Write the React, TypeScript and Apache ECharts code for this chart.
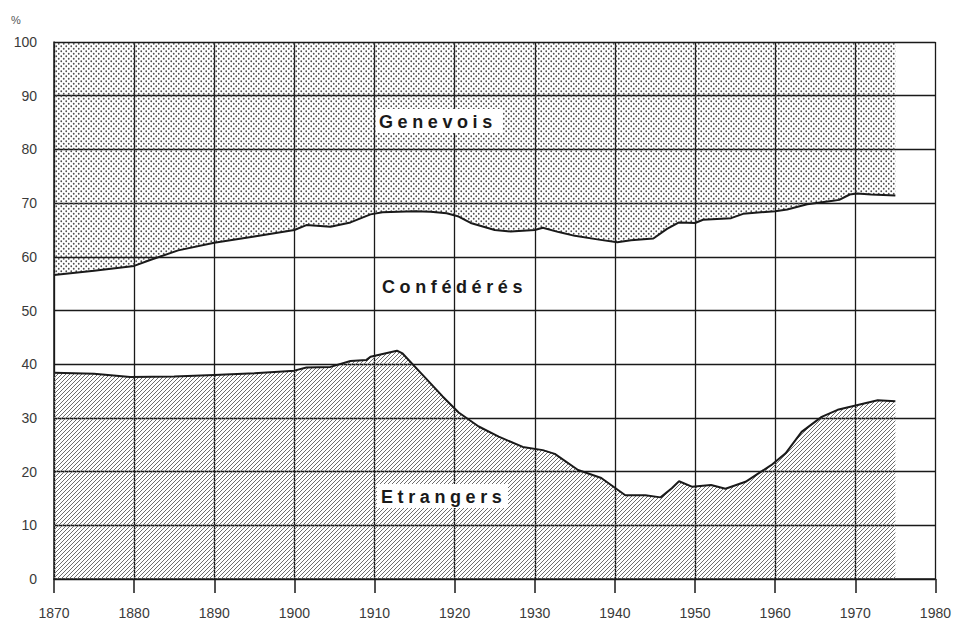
import React, { useEffect, useRef } from "react";
import * as echarts from "echarts";

// Share of population (%) — boundary between Confédérés and Genevois (cumulative Etrangers + Confédérés)
const upperBoundary: [number, number][] = [
  [1870, 56.6], [1875, 57.4], [1880, 58.3], [1882, 59.4], [1885.5, 61.2], [1890, 62.6],
  [1895, 63.8], [1900, 65.0], [1901.5, 65.9], [1904.5, 65.6], [1907, 66.4], [1909.5, 67.9],
  [1911, 68.3], [1915, 68.5], [1917, 68.4], [1919, 68.1], [1920.5, 67.5], [1922, 66.3],
  [1925, 65.0], [1927, 64.7], [1930, 65.0], [1931, 65.4], [1933, 64.6], [1935, 63.9],
  [1938, 63.2], [1940.3, 62.7], [1942, 63.1], [1944.8, 63.4], [1946.5, 65.2], [1948, 66.4],
  [1950, 66.3], [1951, 66.9], [1954.5, 67.2], [1956, 68.0], [1960, 68.5], [1961.5, 68.8],
  [1964, 69.8], [1967, 70.4], [1968, 70.6], [1969.3, 71.6], [1970.2, 71.8], [1972, 71.6],
  [1975, 71.4],
];

// Share of Etrangers (%)
const etrangers: [number, number][] = [
  [1870, 38.4], [1875, 38.2], [1879.5, 37.6], [1885, 37.7], [1890, 38.0], [1895, 38.3],
  [1900, 38.8], [1901.5, 39.4], [1904.5, 39.5], [1907, 40.6], [1909, 40.8], [1909.5, 41.4],
  [1912.8, 42.5], [1913.5, 42.0], [1916, 38.0], [1918.5, 34.0], [1920.5, 31.0], [1923, 28.4],
  [1925.5, 26.5], [1928.5, 24.6], [1931, 24.0], [1932.5, 23.3], [1935.4, 20.3], [1938.3, 18.8],
  [1941.3, 15.6], [1943.8, 15.6], [1945.7, 15.2], [1947.1, 16.9], [1948, 18.2], [1949.6, 17.2],
  [1952, 17.5], [1953.8, 16.8], [1956.3, 18.1], [1959.5, 21.2], [1961.3, 23.4], [1963.3, 27.4],
  [1965.8, 30.2], [1967.8, 31.5], [1970.3, 32.4], [1972.8, 33.3], [1975, 33.1],
];

const xRange = { min: 1870, max: 1980, step: 10 };
const yRange = { min: 0, max: 100, step: 10 };
const regionLabels = ["Genevois", "Confédérés", "Etrangers"];
const unitLabel = "%";

const FONT = "'Liberation Sans', Arial, Helvetica, sans-serif";

function makeHatch(): HTMLCanvasElement {
  const s = 4;
  const c = document.createElement("canvas");
  c.width = s;
  c.height = s;
  const ctx = c.getContext("2d")!;
  ctx.strokeStyle = "#666";
  ctx.lineWidth = 0.95;
  ctx.beginPath();
  ctx.moveTo(-1, s + 1);
  ctx.lineTo(s + 1, -1);
  ctx.moveTo(-1, 1);
  ctx.lineTo(1, -1);
  ctx.moveTo(s - 1, s + 1);
  ctx.lineTo(s + 1, s - 1);
  ctx.stroke();
  return c;
}

function makeDots(): HTMLCanvasElement {
  const s = 5;
  const c = document.createElement("canvas");
  c.width = s;
  c.height = s;
  const ctx = c.getContext("2d")!;
  ctx.fillStyle = "#505050";
  [[1.25, 1.25], [3.75, 3.75]].forEach(([x, y]) => {
    ctx.beginPath();
    ctx.arc(x, y, 0.9, 0, Math.PI * 2);
    ctx.fill();
  });
  return c;
}

export default function App() {
  const ref = useRef<HTMLDivElement>(null);

  useEffect(() => {
    if (!ref.current) return;
    const chart = echarts.init(ref.current, undefined, { renderer: "svg" });
    const labelStyle = {
      font: `bold 18px ${FONT}`,
      fill: "#1a1a1a",
      textAlign: "left",
      textVerticalAlign: "middle",
    };
    chart.setOption({
      animation: false,
      grid: { left: 54, right: 17, top: 42, bottom: 43, containLabel: false },
      xAxis: {
        type: "value",
        min: xRange.min,
        max: xRange.max,
        interval: xRange.step,
        axisLine: { show: true, lineStyle: { color: "#1a1a1a", width: 1.5 } },
        axisTick: { show: true, inside: false, length: 14, lineStyle: { color: "#1a1a1a", width: 1.5 } },
        axisLabel: {
          margin: 27,
          color: "#3a3a3a",
          fontSize: 14,
          fontFamily: FONT,
          formatter: (v: number) => String(v),
        },
        splitLine: { show: true, lineStyle: { color: "#1a1a1a", width: 1.3 } },
      },
      yAxis: {
        type: "value",
        min: yRange.min,
        max: yRange.max,
        interval: yRange.step,
        axisLine: { show: true, lineStyle: { color: "#1a1a1a", width: 1.5 } },
        axisTick: { show: false },
        axisLabel: { margin: 17, color: "#3a3a3a", fontSize: 14, fontFamily: FONT },
        splitLine: { show: true, lineStyle: { color: "#1a1a1a", width: 1.3 } },
      },
      series: [
        {
          type: "line",
          data: etrangers,
          showSymbol: false,
          symbol: "none",
          silent: true,
          lineStyle: { color: "#1a1a1a", width: 2 },
          areaStyle: { origin: "start", color: { image: makeHatch(), repeat: "repeat" }, opacity: 1 },
          z: 2,
        },
        {
          type: "line",
          data: upperBoundary,
          showSymbol: false,
          symbol: "none",
          silent: true,
          lineStyle: { color: "#1a1a1a", width: 2 },
          areaStyle: { origin: "end", color: { image: makeDots(), repeat: "repeat" }, opacity: 1 },
          z: 2,
        },
      ],
      graphic: [
        { type: "text", left: 11, top: 14, z: 100, style: { text: unitLabel, font: `11px ${FONT}`, fill: "#555" } },
        { type: "rect", z: 99, shape: { x: 376, y: 109, width: 127, height: 24 }, style: { fill: "#fff" } },
        { type: "text", z: 100, x: 379, y: 122, style: { ...labelStyle, text: regionLabels[0] } },
        { type: "text", z: 100, x: 382, y: 287, style: { ...labelStyle, text: regionLabels[1] } },
        { type: "rect", z: 99, shape: { x: 377, y: 484, width: 131, height: 24 }, style: { fill: "#fff" } },
        { type: "text", z: 100, x: 381, y: 497, style: { ...labelStyle, text: regionLabels[2] } },
      ],
    });

    const applySpacing = () => {
      const root = ref.current;
      if (!root) return;
      root.querySelectorAll("text").forEach((t) => {
        const s = (t.textContent || "").trim();
        if (regionLabels.includes(s)) t.setAttribute("letter-spacing", "4.6px");
      });
    };
    applySpacing();
    chart.on("finished", applySpacing);
    const raf = requestAnimationFrame(applySpacing);

    return () => {
      cancelAnimationFrame(raf);
      chart.dispose();
    };
  }, []);

  return (
    <div
      ref={ref}
      style={{ position: "fixed", left: 0, top: 0, width: 954, height: 622, background: "#fff" }}
    />
  );
}
